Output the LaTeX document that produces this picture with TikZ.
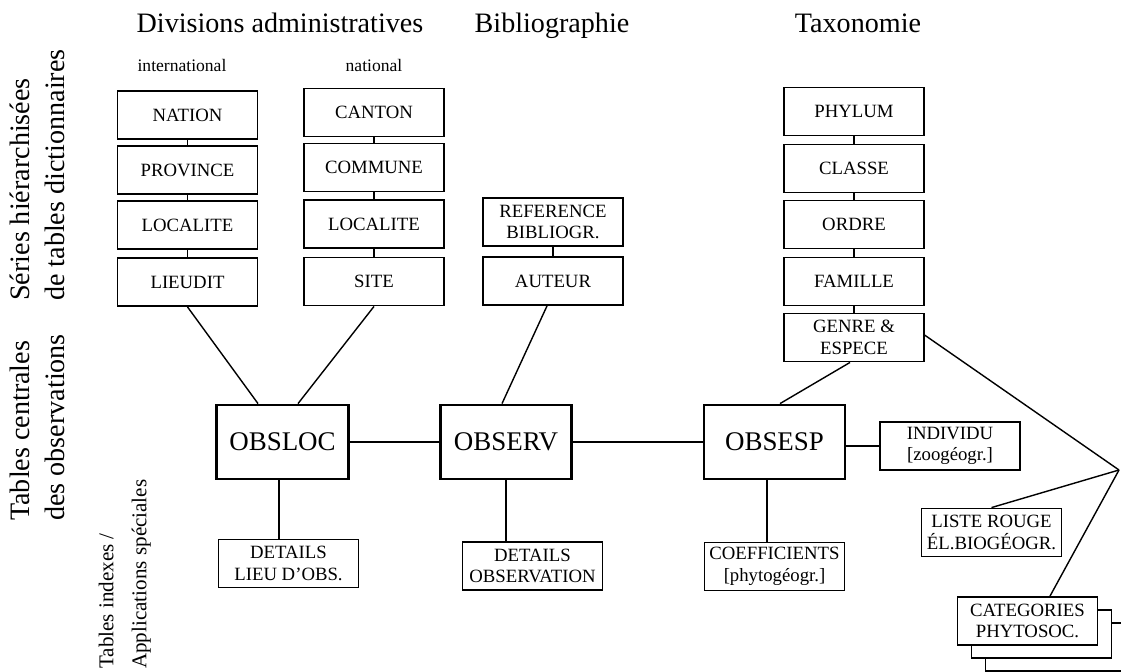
\documentclass[tikz,border=0pt]{standalone}
\usepackage{fontspec}
\setmainfont{Liberation Serif}
\usetikzlibrary{shadows}

\begin{document}
\begin{tikzpicture}[x=0.03cm, y=-0.03cm,
	table/.style={draw, line width=1.3pt, fill=white, minimum width=4.2cm, minimum height=1.45cm,
		inner sep=1pt, align=center, font=\fontsize{16}{18.5}\selectfont},
	central/.style={draw, line width=2.4pt, fill=white, minimum width=3.95cm, minimum height=2.22cm,
		font=\fontsize{23}{26}\selectfont},
	heading/.style={anchor=base, font=\fontsize{24}{26}\selectfont},
	subheading/.style={anchor=base, font=\fontsize{15}{16}\selectfont},
	sidelabel/.style={rotate=90, anchor=south west, align=left, inner sep=0pt},
	link/.style={line width=1.2pt}]
	\useasboundingbox (0,0) rectangle (1121,671);
	\clip (0,0) rectangle (1121,671);

	% titres
	\node[heading] (divtitle) at (280,32) {Divisions administratives};
	\node[heading] (bibtitle) at (552,32) {Bibliographie};
	\node[heading] (taxtitle) at (858,32) {Taxonomie};
	\node[subheading] (intl) at (182,71) {international};
	\node[subheading] (natl) at (374,71) {national};

	% niveaux
	\node[sidelabel, font=\fontsize{24}{30}\selectfont] (serieslab) at (65,301) {Séries hiérarchisées\\de tables dictionnaires};
	\node[sidelabel, font=\fontsize{24}{30}\selectfont] (centrallab) at (65,521) {Tables centrales\\des observations};
	\node[sidelabel, font=\fontsize{18}{28}\selectfont] (indexlab) at (151,669) {Tables indexes /\\Applications spéciales};

	% tables dictionnaires
	\foreach \name/\txt/\y in {nation/NATION/115, province/PROVINCE/170, locint/LOCALITE/225, lieudit/LIEUDIT/282}
		\node[table] (\name) at (187.5,\y) {\txt};
	\foreach \name/\txt/\y in {canton/CANTON/112.5, commune/COMMUNE/167.5, locnat/LOCALITE/224, site/SITE/281.5}
		\node[table] (\name) at (374,\y) {\txt};
	\node[table] (reference) at (553,222) {REFERENCE\\BIBLIOGR.};
	\node[table] (auteur) at (553,281) {AUTEUR};
	\foreach \name/\txt/\y in {phylum/PHYLUM/111.5, classe/CLASSE/168.5, ordre/ORDRE/224.5, famille/FAMILLE/281.5}
		\node[table] (\name) at (854,\y) {\txt};
	\node[table] (genre) at (854,337.5) {GENRE \&\\ESPECE};

	\foreach \a/\b in {nation/province, province/locint, locint/lieudit,
		canton/commune, commune/locnat, locnat/site, reference/auteur,
		phylum/classe, classe/ordre, ordre/famille, famille/genre}
		\draw[link] (\a) -- (\b);

	% tables centrales
	\node[central] (obsloc) at (282.5,442) {OBSLOC};
	\node[central] (observ) at (506,442) {OBSERV};
	\node[central, minimum width=4.23cm] (obsesp) at (774.5,442) {OBSESP};

	% tables indexes
	\node[table] (detlieu) at (288.5,563.5) {DETAILS\\LIEU D'OBS.};
	\node[table] (detobs) at (532.5,566) {DETAILS\\OBSERVATION};
	\node[table] (coeff) at (774.5,566.5) {COEFFICIENTS\\{}[phytogéogr.]};
	\node[table] (individu) at (950,446) {INDIVIDU\\{}[zoogéogr.]};
	\node[table] (liste) at (991.5,532.5) {LISTE ROUGE\\ÉL.BIOGÉOGR.};
	\node[table,
		copy shadow={shadow xshift=0.84cm, shadow yshift=-0.78cm, draw, fill=white, line width=1.3pt},
		copy shadow={shadow xshift=0.42cm, shadow yshift=-0.39cm, draw, fill=white, line width=1.3pt}]
		(categories) at (1027.5,621) {CATEGORIES\\PHYTOSOC.};
	\coordinate (hub) at (1119,470);

	% liaisons
	\draw[link] (lieudit.south) -- ([xshift=-0.735cm]obsloc.north);
	\draw[link] (site.south) -- ([xshift=0.465cm]obsloc.north);
	\draw[link] ([xshift=-0.18cm]auteur.south) -- ([xshift=-0.12cm]observ.north);
	\draw[link] ([xshift=-0.12cm]genre.south) -- ([xshift=0.165cm]obsesp.north);
	\draw[link] (obsloc) -- (observ);
	\draw[link] (observ) -- (obsesp);
	\draw[link] ([xshift=-0.1cm]obsloc.south) -- ([xshift=-0.1cm]obsloc.south |- detlieu.north);
	\draw[link] (observ.south) -- (observ.south |- detobs.north);
	\draw[link] ([xshift=-0.22cm]obsesp.south) -- ([xshift=-0.22cm]obsesp.south |- coeff.north);
	\draw[link] (obsesp.east |- individu.west) -- (individu.west);
	\draw[link] ([yshift=0.07cm]genre.east) -- (hub);
	\draw[link] (liste.north) -- (hub);
	\draw[link] ([xshift=0.675cm]categories.north) -- (hub);
\end{tikzpicture}
\end{document}
